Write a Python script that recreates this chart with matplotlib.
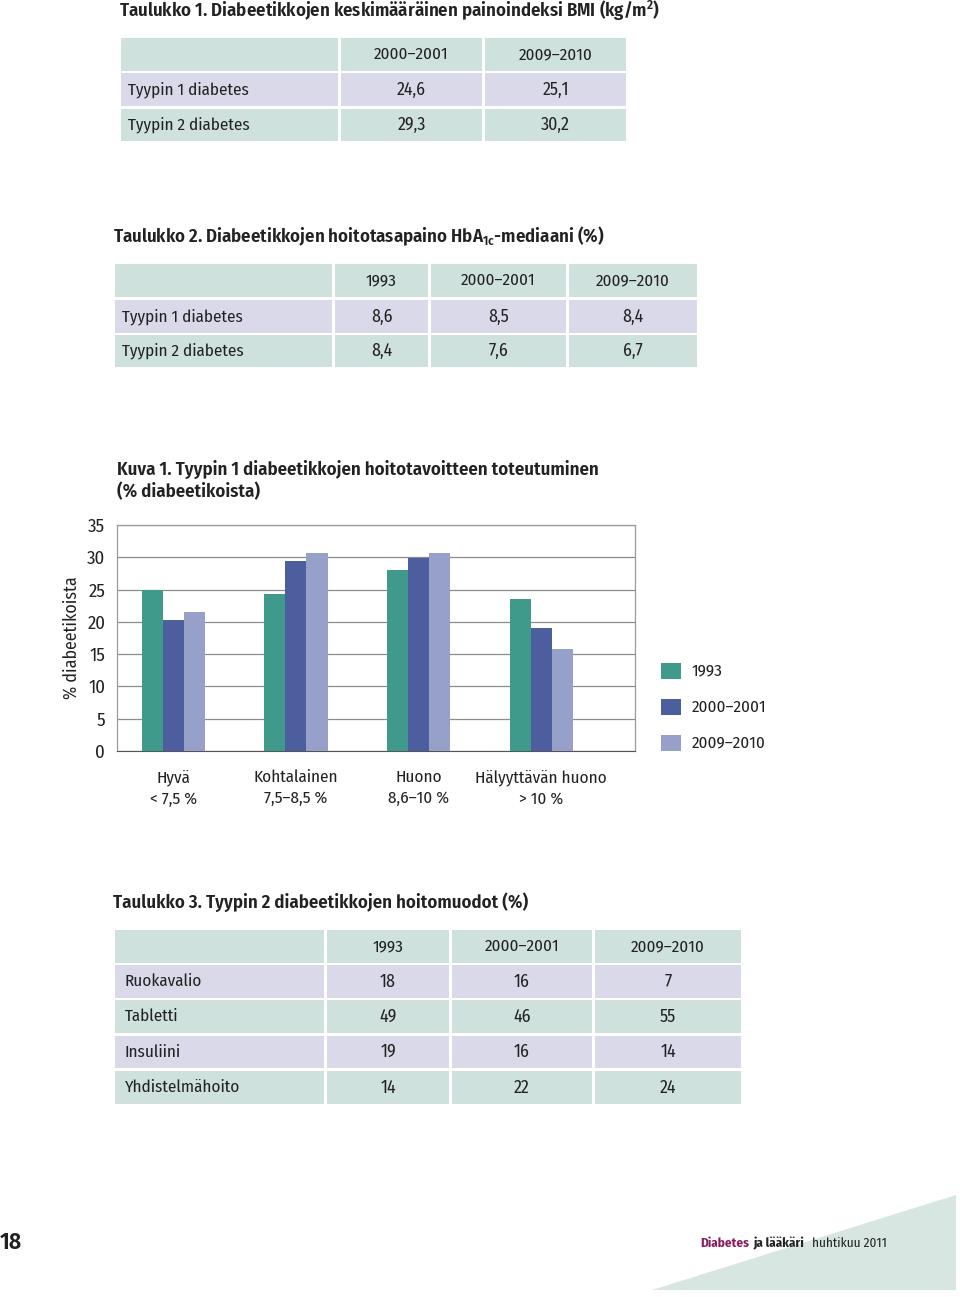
import matplotlib
matplotlib.use("Agg")
import matplotlib.pyplot as plt
from matplotlib.patches import Rectangle, Polygon
import numpy as np

plt.rcParams['font.family'] = ['Fira Sans Condensed', 'DejaVu Sans']
plt.rcParams['mathtext.default'] = 'regular'
plt.rcParams['mathtext.fontset'] = 'custom'
plt.rcParams['mathtext.rm'] = 'Fira Sans Condensed'
plt.rcParams['mathtext.bf'] = 'Fira Sans Condensed:semibold'

# ── data ─────────────────────────────────────────────────────────────────────
t1_cols = ["2000–2001", "2009–2010"]
t1_rows = ["Tyypin 1 diabetes", "Tyypin 2 diabetes"]
t1_vals = [["24,6", "25,1"], ["29,3", "30,2"]]

t2_cols = ["1993", "2000–2001", "2009–2010"]
t2_rows = ["Tyypin 1 diabetes", "Tyypin 2 diabetes"]
t2_vals = [["8,6", "8,5", "8,4"], ["8,4", "7,6", "6,7"]]

t3_cols = ["1993", "2000–2001", "2009–2010"]
t3_rows = ["Ruokavalio", "Tabletti", "Insuliini", "Yhdistelmähoito"]
t3_vals = [["18", "16", "7"], ["49", "46", "55"], ["19", "16", "14"], ["14", "22", "24"]]

categories = ["Hyvä\n< 7,5 %", "Kohtalainen\n7,5–8,5 %", "Huono\n8,6–10 %", "Hälyyttävän huono\n> 10 %"]
series = ["1993", "2000–2001", "2009–2010"]
v1993 = [24.9, 24.3, 28.0, 23.5]
v2000 = [20.3, 29.4, 29.9, 19.0]
v2009 = [21.5, 30.7, 30.7, 15.8]

# ── styles ───────────────────────────────────────────────────────────────────
TEAL_CELL = "#cfe1dd"
LAV_CELL  = "#d9d9e9"
BAR_COLS  = ["#3f9a8c", "#4d5e9e", "#97a0c9"]
TXT       = "#222222"
FS        = 12.3   # body text
FT        = 13.5   # titles
TW        = 600    # title weight
W, H      = 960, 1297

fig = plt.figure(figsize=(W / 100, H / 100), dpi=100)
bg = fig.add_axes([0, 0, 1, 1])
bg.set_xlim(0, W)
bg.set_ylim(H, 0)
bg.axis("off")


def draw_table(xs, ys, cols, rows, vals, label_pad=7):
    # xs: column edges [(x0,x1),...], ys: row edges [(y0,y1),...]
    for r in range(len(ys)):
        color = TEAL_CELL if r % 2 == 0 else LAV_CELL
        for (x0, x1) in xs:
            bg.add_patch(Rectangle((x0, ys[r][0]), x1 - x0, ys[r][1] - ys[r][0],
                                   facecolor=color, edgecolor="none"))
    for c, name in enumerate(cols):
        x0, x1 = xs[c + 1]
        yc = (ys[0][0] + ys[0][1]) / 2
        bg.text((x0 + x1) / 2, yc, name, ha="center", va="center", fontsize=FS, color=TXT)
    for r, name in enumerate(rows):
        y0, y1 = ys[r + 1]
        yc = (y0 + y1) / 2
        bg.text(xs[0][0] + label_pad, yc, name, ha="left", va="center", fontsize=FS, color=TXT)
        for c, v in enumerate(vals[r]):
            x0, x1 = xs[c + 1]
            bg.text((x0 + x1) / 2, yc, v, ha="center", va="center", fontsize=FS + 0.5, color=TXT)


# Table 1
bg.text(119, 11, r"Taulukko 1. Diabeetikkojen keskimääräinen painoindeksi BMI (kg/m$^{\mathbf{2}}$)",
        ha="left", va="center", fontsize=FT, fontweight=TW, color=TXT)
draw_table([(121, 338), (341, 482), (485, 626)],
           [(38, 71), (73, 106), (109, 141)], t1_cols, t1_rows, t1_vals)

# Table 2
bg.text(113, 236, r"Taulukko 2. Diabeetikkojen hoitotasapaino HbA$_{\mathbf{1c}}$-mediaani (%)",
        ha="left", va="center", fontsize=FT, fontweight=TW, color=TXT)
draw_table([(115, 332), (335, 428), (431, 566), (569, 697)],
           [(264, 297), (300, 333), (335, 367)], t2_cols, t2_rows, t2_vals)

# Chart title
bg.text(117, 470, "Kuva 1. Tyypin 1 diabeetikkojen hoitotavoitteen toteutuminen",
        ha="left", va="center", fontsize=FT, fontweight=TW, color=TXT)
bg.text(117, 492, "(% diabeetikoista)", ha="left", va="center", fontsize=FT,
        fontweight=TW, color=TXT)

# Chart axes
ax = fig.add_axes([117 / W, 1 - 751 / H, 518 / W, 226 / H])
x = np.arange(len(categories))
bw = 0.172
for i, (vals, name) in enumerate(zip([v1993, v2000, v2009], series)):
    ax.bar(x + (i - 1) * bw, vals, width=bw, color=BAR_COLS[i], label=name, zorder=3)
ax.set_ylim(0, 35)
ax.set_xlim(-0.458, 3.764)
ax.set_yticks(range(0, 36, 5))
ax.yaxis.grid(True, color="#8c8c8c", linewidth=0.9, zorder=0)
ax.set_xticks(x)
ax.set_xticklabels(categories, fontsize=FS, color=TXT, linespacing=1.45)
ax.tick_params(axis="both", length=0, colors=TXT)
ax.tick_params(axis="x", pad=13, labelsize=FS)
ax.tick_params(axis="y", pad=8.5, labelsize=13.5)
for s in ["top", "right", "left"]:
    ax.spines[s].set_color("#9a9a9a")
    ax.spines[s].set_linewidth(0.9)
ax.spines["bottom"].set_color("#555555")
ax.set_ylabel("% diabeetikoista", fontsize=FS + 0.5, color=TXT, labelpad=5)

# Legend
for i, name in enumerate(series):
    y = 671 + i * 36
    bg.add_patch(Rectangle((661, y - 8), 20, 16, facecolor=BAR_COLS[i], edgecolor="none"))
    bg.text(692, y, name, ha="left", va="center", fontsize=FS, color=TXT)

# Table 3
bg.text(113, 902, "Taulukko 3. Tyypin 2 diabeetikkojen hoitomuodot (%)",
        ha="left", va="center", fontsize=FT, fontweight=TW, color=TXT)
draw_table([(115, 324), (327, 449), (452, 592), (595, 741)],
           [(930, 963), (965, 998), (1000, 1033), (1036, 1068), (1071, 1104)],
           t3_cols, t3_rows, t3_vals, label_pad=10)

# Footer
bg.add_patch(Polygon([(652, 1290), (956, 1195), (956, 1290)], closed=True,
                     facecolor="#d8e6e2", edgecolor="none"))
bg.text(0, 1242, "18", ha="left", va="center", fontsize=17, fontweight=600, color=TXT)
bg.text(700, 1243, "Diabetes", ha="left", va="center", fontsize=9.5, fontweight="bold",
        color="#8b1a5c")
bg.text(754, 1243, "ja lääkäri", ha="left", va="center", fontsize=9.5, fontweight="bold",
        color=TXT)
bg.text(812, 1243, "huhtikuu 2011", ha="left", va="center", fontsize=9.5, color=TXT)

fig.savefig("out.png", dpi=100, facecolor="white")
